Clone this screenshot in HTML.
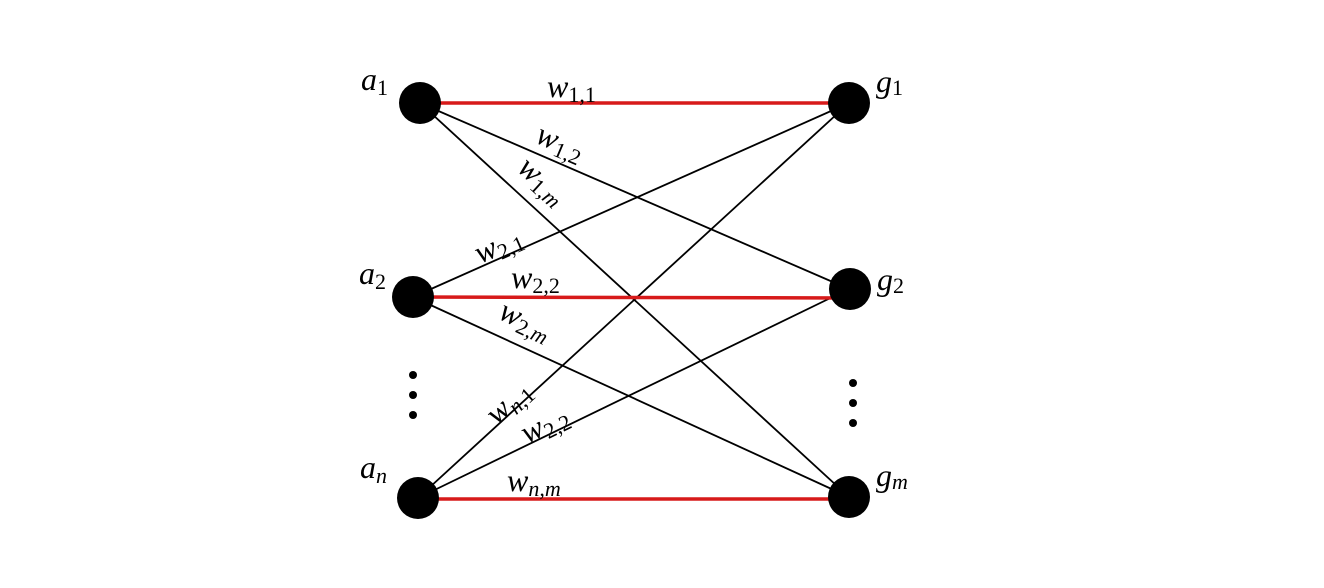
<!DOCTYPE html>
<html><head><style>html,body{margin:0;padding:0;background:#fff}svg{display:block}</style></head>
<body>
<svg width="1324" height="588" viewBox="0 0 1324 588" xmlns="http://www.w3.org/2000/svg" font-family="Liberation Serif, serif" font-style="italic">
<g stroke="#000" stroke-width="1.8">
<line x1="420" y1="103" x2="849" y2="289"/>
<line x1="420" y1="103" x2="849" y2="497"/>
<line x1="413" y1="297" x2="849" y2="103"/>
<line x1="413" y1="297" x2="849" y2="497"/>
<line x1="418" y1="498" x2="849" y2="103"/>
<line x1="418" y1="498" x2="849" y2="289"/>
</g>
<g stroke="#d71a1a" stroke-width="3.5">
<line x1="420" y1="103" x2="849" y2="103"/>
<line x1="413" y1="297" x2="849" y2="298"/>
<line x1="418" y1="499" x2="849" y2="499"/>
</g>
<g fill="#000">
<circle cx="420" cy="103" r="21"/>
<circle cx="413" cy="297" r="21"/>
<circle cx="418" cy="498" r="21"/>
<circle cx="849" cy="103" r="21"/>
<circle cx="850" cy="289" r="21"/>
<circle cx="849" cy="497" r="21"/>
<circle cx="413" cy="375" r="4"/><circle cx="413" cy="395" r="4"/><circle cx="413" cy="415" r="4"/>
<circle cx="853" cy="383" r="4"/><circle cx="853" cy="403" r="4"/><circle cx="853" cy="423" r="4"/>
</g>
<g font-size="32" fill="#000">
<text x="361" y="90">a<tspan font-size="22" font-style="normal" dy="5">1</tspan></text>
<text x="359" y="284">a<tspan font-size="22" font-style="normal" dy="5">2</tspan></text>
<text x="360" y="478">a<tspan font-size="22" dy="5">n</tspan></text>
<text x="876" y="92">g<tspan font-size="22" font-style="normal" dy="3">1</tspan></text>
<text x="877" y="290">g<tspan font-size="22" font-style="normal" dy="3">2</tspan></text>
<text x="876" y="486">g<tspan font-size="22" dy="3">m</tspan></text>
</g>
<g font-size="32" fill="#000">
<text x="547" y="97">w<tspan font-size="22" font-style="normal" dy="5">1,1</tspan></text>
<text transform="translate(534,142) rotate(23)">w<tspan font-size="22" font-style="normal" dy="5">1,2</tspan></text>
<text transform="translate(516,170) rotate(42)">w<tspan font-size="22" font-style="normal" dy="5">1,</tspan><tspan font-size="22">m</tspan></text>
<text transform="translate(480,264) rotate(-24)">w<tspan font-size="22" font-style="normal" dy="5">2,1</tspan></text>
<text x="511" y="288">w<tspan font-size="22" font-style="normal" dy="5">2,2</tspan></text>
<text transform="translate(497,318) rotate(25)">w<tspan font-size="22" font-style="normal" dy="5">2,</tspan><tspan font-size="22">m</tspan></text>
<text transform="translate(497,426) rotate(-42)">w<tspan font-size="22" dy="5">n</tspan><tspan font-size="22" font-style="normal">,1</tspan></text>
<text transform="translate(527,444) rotate(-26)">w<tspan font-size="22" font-style="normal" dy="5">2,2</tspan></text>
<text x="507" y="491">w<tspan font-size="22" dy="5">n,m</tspan></text>
</g>
</svg>
</body></html>
